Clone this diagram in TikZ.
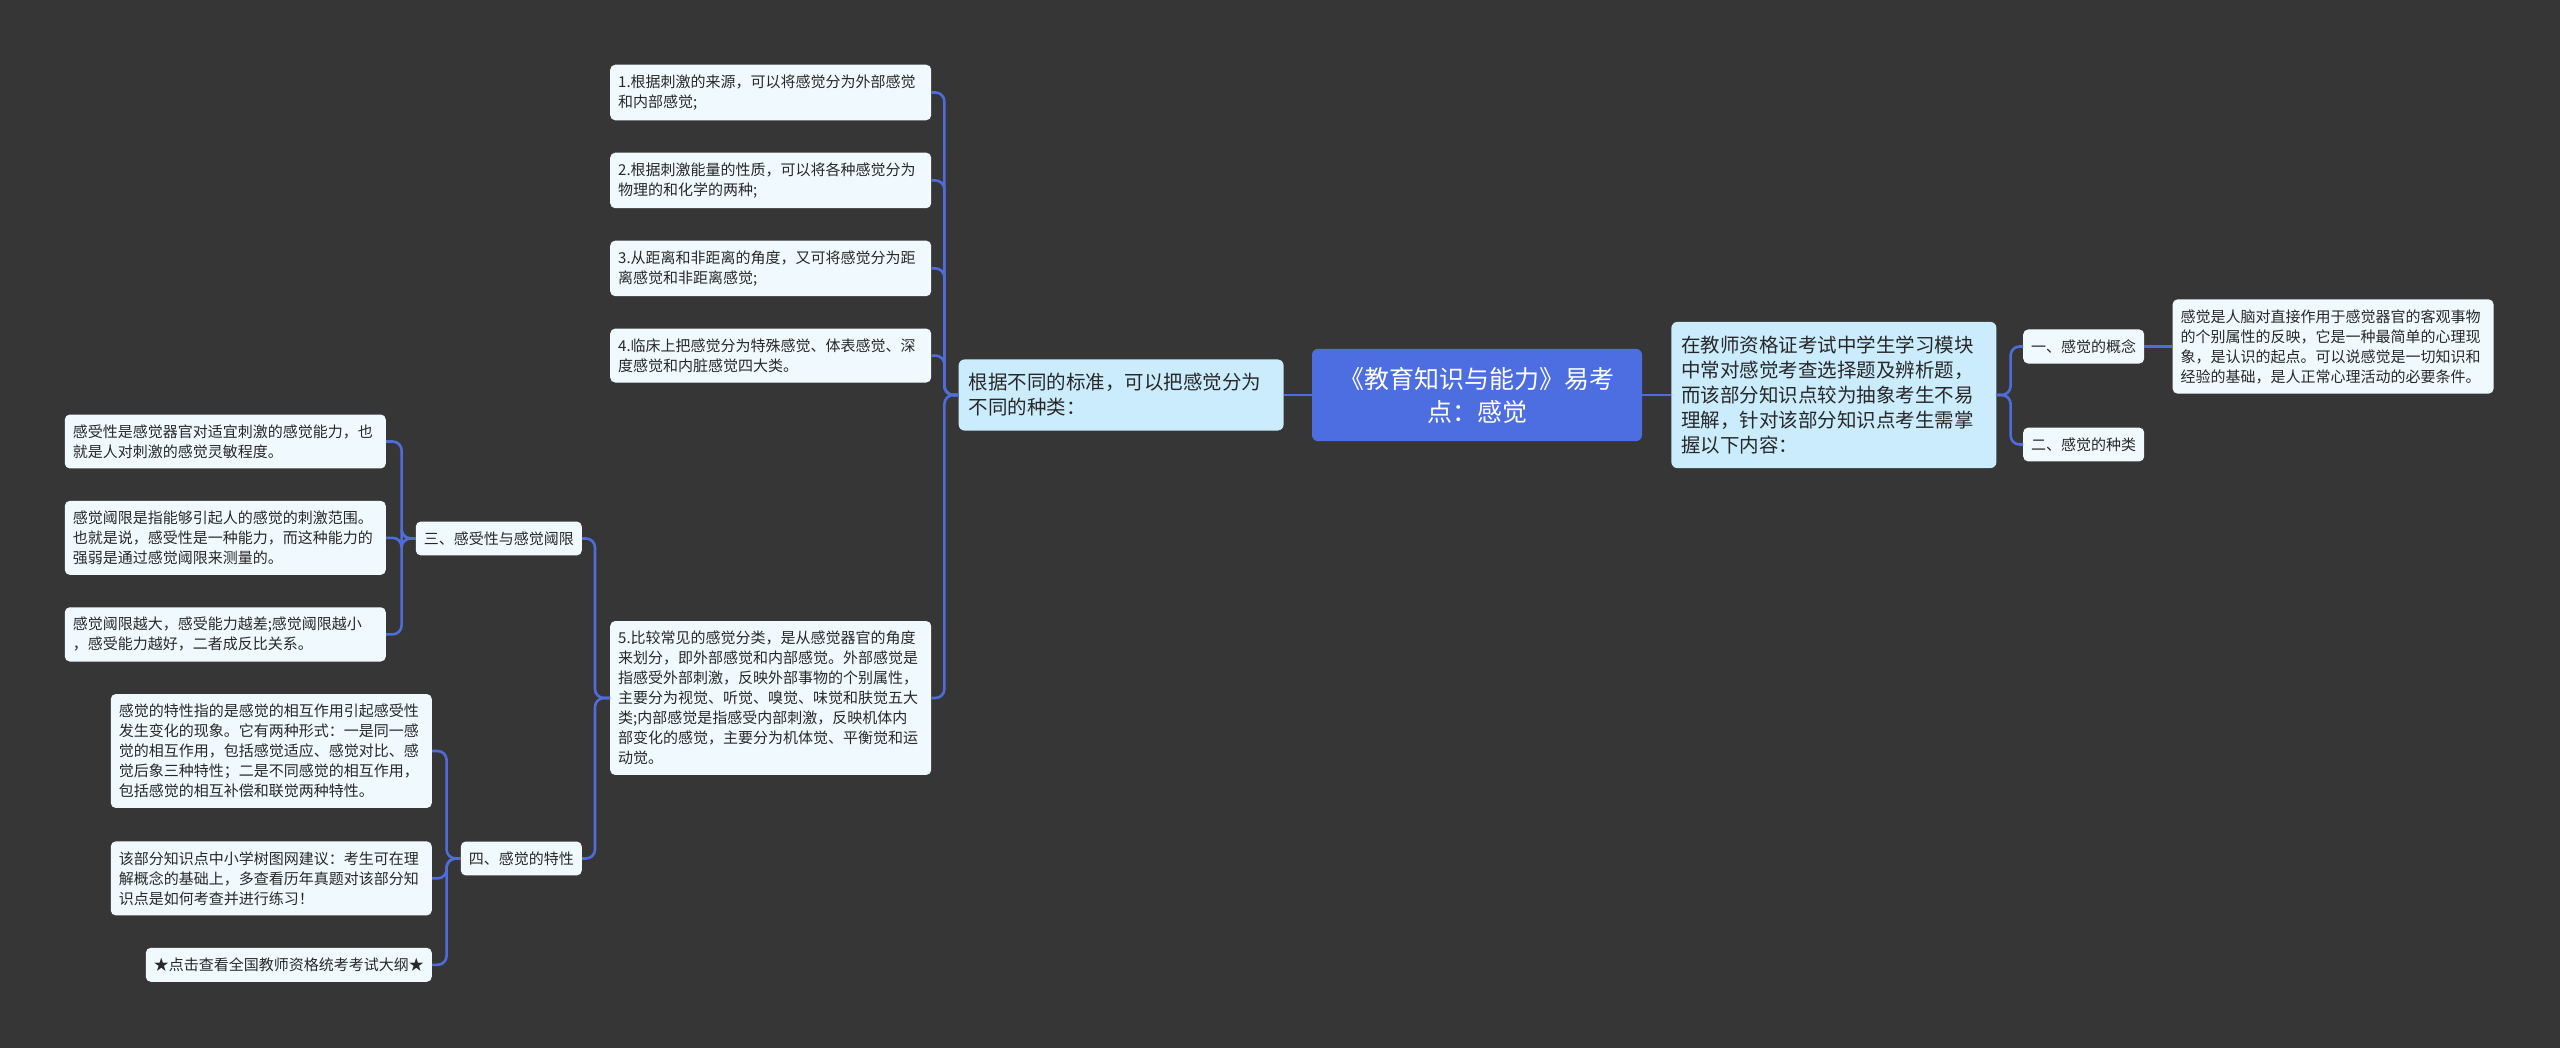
\documentclass[tikz,border=0pt]{standalone}
\usepackage{fontspec}
\setmainfont{Noto Sans CJK SC}
\usepackage{tikz}
\usetikzlibrary{positioning,calc}

\definecolor{canvas}{RGB}{54,54,54}
\definecolor{linkblue}{RGB}{80,108,218}
\definecolor{rootfill}{RGB}{77,110,224}
\definecolor{mainfill}{RGB}{202,236,252}
\definecolor{leaffill}{RGB}{240,250,254}
\definecolor{inktext}{RGB}{40,40,40}

\begin{document}
\begin{tikzpicture}[
    x=1pt, y=-1pt,
    leaf/.style={fill=leaffill, rounded corners=5pt, text=inktext, font=\fontsize{15}{20}\selectfont, inner xsep=8pt, inner ysep=10pt, text width=305pt, align=left},
    sect/.style={fill=leaffill, rounded corners=5pt, text=inktext, font=\fontsize{15}{20}\selectfont, inner xsep=8pt, inner ysep=10pt},
    mainbox/.style={fill=mainfill, rounded corners=6pt, text=inktext, font=\fontsize{19.5}{25}\selectfont, inner xsep=10pt, inner ysep=14pt, text width=305pt, align=left},
    rootbox/.style={fill=rootfill, rounded corners=6pt, text=white, font=\fontsize{25}{33}\selectfont, inner xsep=15pt, inner ysep=18pt, text width=300pt, align=center},
    link/.style={draw=linkblue, line width=2.6pt, rounded corners=9pt}
]
    \fill[canvas] (0,0) rectangle (2560,1048);
    \useasboundingbox (0,0) rectangle (2560,1048);

    % Nodes
    \node[rootbox] (root) at (1477,395) {《教育知识与能力》易考\\点：感觉};

    \node[mainbox, left=28pt of root] (lmain) {根据不同的标准，可以把感觉分为\\不同的种类：};
    \node[mainbox, right=29pt of root] (rmain) {在教师资格证考试中学生学习模块\\中常对感觉考查选择题及辨析题，\\而该部分知识点较为抽象考生不易\\理解，针对该部分知识点考生需掌\\握以下内容：};

    \node[sect, anchor=west] (c1) at (2023,346.5) {一、感觉的概念};
    \node[sect, anchor=west] (c2) at (2023,444.5) {二、感觉的种类};
    \node[leaf, right=28pt of c1] (concept) {感觉是人脑对直接作用于感觉器官的客观事物\\的个别属性的反映，它是一种最简单的心理现\\象，是认识的起点。可以说感觉是一切知识和\\经验的基础，是人正常心理活动的必要条件。};

    \node[leaf, anchor=west] (i1) at (610,92.5) {1.根据刺激的来源，可以将感觉分为外部感觉\\和内部感觉;};
    \node[leaf, below=32pt of i1] (i2) {2.根据刺激能量的性质，可以将各种感觉分为\\物理的和化学的两种;};
    \node[leaf, below=32pt of i2] (i3) {3.从距离和非距离的角度，又可将感觉分为距\\离感觉和非距离感觉;};
    \node[leaf, below=32pt of i3] (i4) {4.临床上把感觉分为特殊感觉、体表感觉、深\\度感觉和内脏感觉四大类。};
    \node[leaf, anchor=west] (i5) at (610,698) {5.比较常见的感觉分类，是从感觉器官的角度\\来划分，即外部感觉和内部感觉。外部感觉是\\指感受外部刺激，反映外部事物的个别属性，\\主要分为视觉、听觉、嗅觉、味觉和肤觉五大\\类;内部感觉是指感受内部刺激，反映机体内\\部变化的感觉，主要分为机体觉、平衡觉和运\\动觉。};

    \node[sect, anchor=east] (s3) at (582,538.5) {三、感受性与感觉阈限};
    \node[sect, anchor=east] (s4) at (582,858.5) {四、感觉的特性};

    \node[leaf, anchor=east] (a1) at (386,441.5) {感受性是感觉器官对适宜刺激的感觉能力，也\\就是人对刺激的感觉灵敏程度。};
    \node[leaf, below=32pt of a1] (a2) {感觉阈限是指能够引起人的感觉的刺激范围。\\也就是说，感受性是一种能力，而这种能力的\\强弱是通过感觉阈限来测量的。};
    \node[leaf, below=32pt of a2] (a3) {感觉阈限越大，感受能力越差;感觉阈限越小\\，感受能力越好，二者成反比关系。};

    \node[leaf, anchor=east] (b1) at (432,751) {感觉的特性指的是感觉的相互作用引起感受性\\发生变化的现象。它有两种形式：一是同一感\\觉的相互作用，包括感觉适应、感觉对比、感\\觉后象三种特性；二是不同感觉的相互作用，\\包括感觉的相互补偿和联觉两种特性。};
    \node[leaf, below=33pt of b1] (b2) {该部分知识点中小学树图网建议：考生可在理\\解概念的基础上，多查看历年真题对该部分知\\识点是如何考查并进行练习！};
    \node[sect, below left=32pt and 0pt of b2.south east] (b3) {★点击查看全国教师资格统考考试大纲★};

    % Connections
    \draw[link] (root.west) -- (lmain.east);
    \draw[link] (root.east) -- (rmain.west);

    \foreach \n in {i1,i2,i3,i4,i5}
        \draw[link] (lmain.west) -- ++(-14,0) |- (\n.east);
    \foreach \n in {s3,s4}
        \draw[link] (i5.west) -- ++(-15,0) |- (\n.east);
    \foreach \n in {a1,a2,a3}
        \draw[link] (s3.west) -- ++(-14,0) |- (\n.east);
    \foreach \n in {b1,b2,b3}
        \draw[link] (s4.west) -- ++(-14,0) |- (\n.east);

    \foreach \n in {c1,c2}
        \draw[link] (rmain.east) -- ++(14,0) |- (\n.west);
    \draw[link] (c1.east) -- (concept.west);

\end{tikzpicture}
\end{document}
